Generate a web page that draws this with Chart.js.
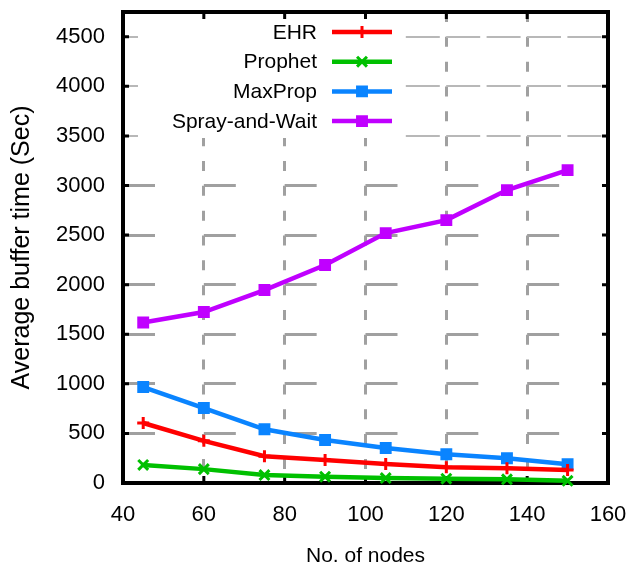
<!DOCTYPE html>
<html>
<head>
<meta charset="utf-8">
<script src="https://cdn.jsdelivr.net/npm/chart.js@4.4.1/dist/chart.umd.min.js"></script>
<style>
  html, body { margin: 0; padding: 0; background: #fff; }
  #wrap { width: 626px; height: 571px; }
</style>
</head>
<body>
<div id="wrap"><canvas id="mainChart" width="626" height="571"></canvas></div>
<script>
// dados
const nodes = [45, 60, 75, 90, 105, 120, 135, 150];
const ehr = [605, 425, 270, 232, 192, 160, 150, 130];
const prophet = [182, 140, 80, 64, 50, 44, 37, 22];
const maxProp = [968, 756, 542, 433, 353, 290, 250, 190];
const sprayAndWait = [1618, 1724, 1946, 2198, 2520, 2651, 2954, 3155];
const seriesNames = ["EHR", "Prophet", "MaxProp", "Spray-and-Wait"];
const xTicks = [40, 60, 80, 100, 120, 140, 160];
const yTicks = [0, 500, 1000, 1500, 2000, 2500, 3000, 3500, 4000, 4500];
const yTicksLight = [3500, 4000, 4500];

const FONT = "'Liberation Sans', Arial, sans-serif";
const GRID = "#a0a0a0";

const styles = [
  { color: "#ff0000", pointStyle: "cross", radius: 6, pw: 3 },
  { color: "#00c000", pointStyle: "crossRot", radius: 7, pw: 3 },
  { color: "#0a84ff", pointStyle: "rect", radius: 7, pw: 2 },
  { color: "#c000ff", pointStyle: "rect", radius: 7, pw: 2 },
];
const values = [ehr, prophet, maxProp, sprayAndWait];

const datasets = values.map((vals, i) => ({
  label: seriesNames[i],
  data: nodes.map((n, j) => ({ x: n, y: vals[j] })),
  borderColor: styles[i].color,
  backgroundColor: styles[i].color,
  borderWidth: 4.5,
  pointStyle: styles[i].pointStyle,
  pointRadius: styles[i].radius,
  pointBorderWidth: styles[i].pw,
  pointBorderColor: styles[i].color,
  pointBackgroundColor: styles[i].color,
  tension: 0,
  clip: false,
}));

// legenda estilo gnuplot + moldura com ticks para dentro
const gnuplotLook = {
  id: "gnuplotLook",
  beforeDatasetsDraw(chart) {
    const ctx = chart.ctx;
    const a = chart.chartArea;
    const xs = chart.scales.x;
    const ys = chart.scales.y;

    ctx.save();
    // caixa branca da legenda (esconde a grade)
    ctx.fillStyle = "#fff";
    ctx.fillRect(a.left + 15, a.top + 2, 265, 124);

    ctx.font = "21px " + FONT;
    ctx.textAlign = "right";
    ctx.textBaseline = "middle";
    seriesNames.forEach((name, i) => {
      const y = a.top + 20 + i * 29.7;
      ctx.fillStyle = "#000";
      ctx.fillText(name, a.left + 194, y + 1);
      ctx.strokeStyle = styles[i].color;
      ctx.lineWidth = 4.5;
      ctx.beginPath();
      ctx.moveTo(a.left + 209, y);
      ctx.lineTo(a.left + 269, y);
      ctx.stroke();
      ctx.fillStyle = styles[i].color;
      ctx.lineWidth = styles[i].pw;
      Chart.helpers.drawPoint(ctx, {
        pointStyle: styles[i].pointStyle,
        radius: styles[i].radius,
        borderWidth: styles[i].pw,
        rotation: 0,
      }, a.left + 239, y);
    });

    // ticks
    ctx.strokeStyle = "#000";
    ctx.lineWidth = 3;
    ctx.beginPath();
    xTicks.forEach((v) => {
      const px = xs.getPixelForValue(v);
      ctx.moveTo(px, a.bottom);
      ctx.lineTo(px, a.bottom - 7);
      ctx.moveTo(px, a.top);
      ctx.lineTo(px, a.top + 7);
    });
    yTicks.forEach((v) => {
      const py = ys.getPixelForValue(v);
      ctx.moveTo(a.left, py);
      ctx.lineTo(a.left + 6, py);
      ctx.moveTo(a.right, py);
      ctx.lineTo(a.right - 6, py);
    });
    ctx.stroke();

    // moldura
    ctx.lineWidth = 4;
    ctx.strokeRect(a.left, a.top, a.right - a.left, a.bottom - a.top);
    ctx.restore();
  },
};

const tickFont = { family: FONT, size: 22 };

const chartInstance = new Chart(document.getElementById("mainChart"), {
  type: "line",
  data: { datasets },
  plugins: [gnuplotLook],
  options: {
    responsive: false,
    animation: false,
    devicePixelRatio: 1,
    layout: { padding: { top: 12, right: 18, left: 0, bottom: 0 } },
    plugins: { legend: { display: false }, tooltip: { enabled: false } },
    scales: {
      x: {
        type: "linear",
        min: 40,
        max: 160,
        afterBuildTicks: (s) => { s.ticks = xTicks.map((v) => ({ value: v })); },
        afterFit: (s) => { s.height = 88; s.paddingLeft = 0; s.paddingRight = 0; },
        grid: {
          color: (c) => (c.tick && (c.tick.value === 40 || c.tick.value === 160)) ? "rgba(0,0,0,0)" : GRID,
          lineWidth: 3,
          drawTicks: false,
        },
        border: { display: false, dash: [10, 14.83] },
        ticks: {
          padding: 19,
          color: "#000",
          font: tickFont,
          maxRotation: 0,
          autoSkip: false,
          callback: (v) => String(v),
        },
        title: {
          display: true,
          text: "No. of nodes",
          color: "#000",
          font: { family: FONT, size: 21 },
          padding: { top: 0, bottom: 2 },
        },
      },
      y: {
        type: "linear",
        position: "left",
        min: 0,
        max: 4750,
        afterBuildTicks: (s) => { s.ticks = yTicks.map((v) => ({ value: v })); },
        afterFit: (s) => { s.width = 123; s.paddingTop = 0; s.paddingBottom = 0; },
        grid: {
          color: (c) => (c.tick && c.tick.value >= 3500) ? "rgba(0,0,0,0)" : GRID,
          lineWidth: 3,
          drawTicks: false,
        },
        border: { display: false, dash: [32, 48.83] },
        ticks: {
          padding: 18,
          color: "#000",
          font: tickFont,
          autoSkip: false,
          callback: (v) => String(v),
        },
        title: {
          display: true,
          text: "Average buffer time (Sec)",
          color: "#000",
          font: { family: FONT, size: 25 },
          padding: { top: 7, bottom: 0 },
        },
      },
      // linhas de grade mais claras no topo
      yTop: {
        type: "linear",
        position: "left",
        min: 0,
        max: 4750,
        afterBuildTicks: (s) => { s.ticks = yTicksLight.map((v) => ({ value: v })); },
        afterFit: (s) => { s.width = 0; s.paddingTop = 0; s.paddingBottom = 0; },
        grid: { color: "#b8b8b8", lineWidth: 2, drawTicks: false },
        border: { display: false, dash: [34, 6.4] },
        ticks: { display: false },
      },
    },
  },
});
</script>
</body>
</html>
